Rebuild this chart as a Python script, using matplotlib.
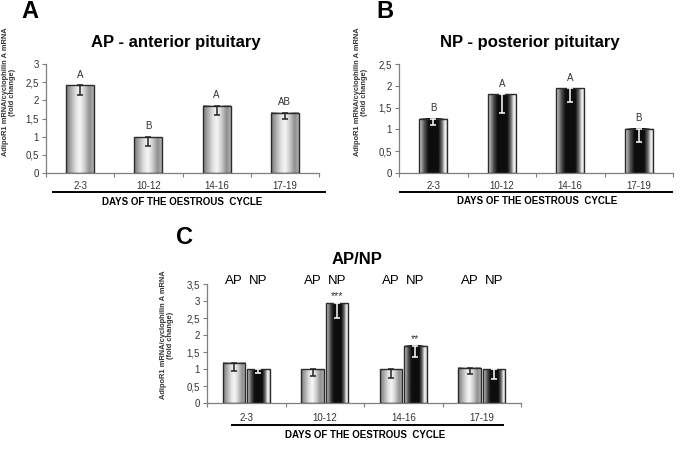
import matplotlib
matplotlib.use("Agg")
import matplotlib.pyplot as plt
import numpy as np
from matplotlib.colors import LinearSegmentedColormap
from matplotlib.patches import Rectangle
from matplotlib.lines import Line2D

plt.rcParams["font.family"] = ["Liberation Sans", "DejaVu Sans"]

# ---- data ----
days = ["2-3", "10-12", "14-16", "17-19"]

ap_mean = [2.42, 0.99, 1.85, 1.66]
ap_low = [2.16, 0.75, 1.60, 1.49]
ap_letters = ["A", "B", "A", "AB"]

np_mean = [1.24, 1.81, 1.94, 1.01]
np_low = [1.10, 1.38, 1.62, 0.72]
np_letters = ["B", "A", "A", "B"]

c_ap_mean = [1.19, 1.00, 1.00, 1.04]
c_ap_low = [0.95, 0.78, 0.74, 0.84]
c_np_mean = [0.99, 2.94, 1.68, 1.00]
c_np_low = [0.87, 2.51, 1.36, 0.72]
c_stars = ["", "***", "**", ""]

YLABEL = "AdipoR1 mRNA/cyclophilin A mRNA\n(fold change)"
XLABEL = "DAYS OF THE OESTROUS  CYCLE"

W, H = 685, 457
GREY_CMAP = LinearSegmentedColormap.from_list(
    "ap", [(0.0, "#7a7a7a"), (0.12, "#9a9a9a"), (0.35, "#e0e0e0"), (0.5, "#f7f7f7"),
           (0.66, "#d0d0d0"), (0.85, "#8f8f8f"), (1.0, "#b0b0b0")])
DARK_CMAP = LinearSegmentedColormap.from_list(
    "np", [(0.0, "#e8e8e8"), (0.08, "#a0a0a0"), (0.2, "#4a4a4a"), (0.33, "#0d0d0d"),
           (0.67, "#0d0d0d"), (0.8, "#707070"), (0.9, "#f5f5f5"), (1.0, "#d0d0d0")])


def box(x0, x1, ytop, ybot):
    return [x0 / W, 1 - ybot / H, (x1 - x0) / W, (ybot - ytop) / H]


def grad_bar(ax, x, w, h, cmap, low, ecolor):
    img = np.linspace(0, 1, 128).reshape(1, -1)
    ax.imshow(img, cmap=cmap, extent=[x - w / 2, x + w / 2, 0, h], aspect="auto",
              interpolation="bilinear", vmin=0, vmax=1, zorder=2)
    ax.add_patch(Rectangle((x - w / 2, 0), w, h, fill=False, ec="#2b2b2b", lw=1.0, zorder=3))
    ax.errorbar(x, h, yerr=[[h - low], [0]], fmt="none", ecolor=ecolor,
                elinewidth=1.1, capsize=2, capthick=1.1, zorder=4)


def style(ax, ymax, ystep, pad):
    n = len(days)
    ax.set_xlim(-0.5, n - 0.5)
    ax.set_ylim(0, ymax)
    for s in ["top", "right"]:
        ax.spines[s].set_visible(False)
    for s in ["left", "bottom"]:
        ax.spines[s].set_color("#7f7f7f")
        ax.spines[s].set_linewidth(0.9)
    yt = np.arange(0, ymax + 1e-9, ystep)
    ax.set_yticks(yt)
    ax.set_yticklabels([f"{v:g}".replace(".", ",") for v in yt])
    ax.set_xticks(np.arange(-0.5, n, 1.0))
    ax.set_xticklabels([])
    ax.set_xticks(np.arange(n), minor=True)
    ax.set_xticklabels(days, minor=True)
    ax.tick_params(axis="x", which="major", length=3, color="#7f7f7f")
    ax.tick_params(axis="x", which="minor", length=0, pad=pad, labelsize=7, labelcolor="#333333")
    ax.tick_params(axis="y", length=3, color="#7f7f7f", labelsize=7, labelcolor="#333333", pad=2)


def decorate(x0, x1, y_line, x_lab, y_lab, x_tit, y_tit, title, x_yl, y_yl, letter, x_let, y_let):
    fig.add_artist(Line2D([x0 / W, x1 / W], [1 - y_line / H] * 2, color="black", lw=1.4))
    fig.text(x_lab / W, 1 - y_lab / H, XLABEL, ha="center", va="center",
             fontsize=7, fontweight="bold")
    fig.text(x_tit / W, 1 - y_tit / H, title, ha="center", va="center",
             fontsize=12, fontweight="bold")
    fig.text(x_yl / W, 1 - y_yl / H, YLABEL, ha="center", va="center", rotation=90,
             fontsize=5.4, fontweight="bold", color="#333333", linespacing=1.1)
    fig.text(x_let / W, 1 - y_let / H, letter, ha="left", va="center",
             fontsize=17, fontweight="bold")


fig = plt.figure(figsize=(6.85, 4.57), dpi=100)

# Panel A: anterior pituitary
axA = fig.add_axes(box(46, 319, 64, 173))
for i, (m, lo, lab) in enumerate(zip(ap_mean, ap_low, ap_letters)):
    grad_bar(axA, i, 0.41, m, GREY_CMAP, lo, "#222222")
    axA.annotate(lab, (i, m), xytext=(0, 4), textcoords="offset points",
                 ha="center", va="bottom", fontsize=7, color="#333333")
style(axA, 3, 0.5, 6)
decorate(53, 325, 192, 182, 202, 176, 43, "AP - anterior pituitary", 9, 92, "A", 21, 11)

# Panel B: posterior pituitary
axB = fig.add_axes(box(399, 673, 64, 173))
for i, (m, lo, lab) in enumerate(zip(np_mean, np_low, np_letters)):
    grad_bar(axB, i, 0.41, m, DARK_CMAP, lo, "white")
    axB.annotate(lab, (i, m), xytext=(0, 4), textcoords="offset points",
                 ha="center", va="bottom", fontsize=7, color="#333333")
style(axB, 2.5, 0.5, 6)
decorate(400, 672, 192, 537, 201, 530, 43, "NP - posterior pituitary", 361, 92, "B", 376, 11)

# Panel C: AP vs NP
axC = fig.add_axes(box(207, 521, 284, 403))
bw, off = 0.29, 0.155
for i in range(len(days)):
    grad_bar(axC, i - off, bw, c_ap_mean[i], GREY_CMAP, c_ap_low[i], "#222222")
    grad_bar(axC, i + off, bw, c_np_mean[i], DARK_CMAP, c_np_low[i], "white")
    axC.text(i - off, 3.6, "AP", ha="center", va="center", fontsize=9.5, clip_on=False)
    axC.text(i + off, 3.6, "NP", ha="center", va="center", fontsize=9.5, clip_on=False)
    if c_stars[i]:
        axC.annotate(c_stars[i], (i + off, c_np_mean[i]), xytext=(0, 3),
                     textcoords="offset points", ha="center", va="baseline",
                     fontsize=7.5, color="#333333")
style(axC, 3.5, 0.5, 7.5)
decorate(232, 503, 425, 365, 435, 357, 260, "AP/NP", 167, 335, "C", 176, 238)

fig.savefig("out.png", dpi=100)
